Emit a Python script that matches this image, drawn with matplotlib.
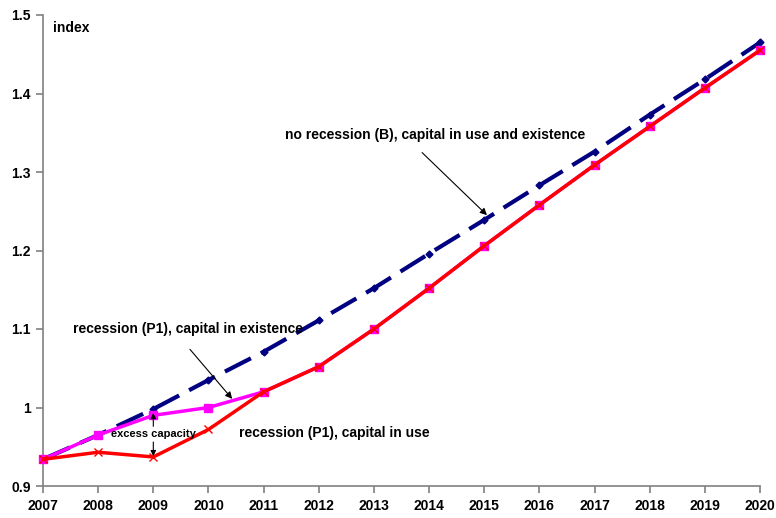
import matplotlib
matplotlib.use("Agg")
import matplotlib.pyplot as plt

years = list(range(2007, 2021))
no_recession_B = [0.934, 0.965, 0.998, 1.035, 1.071, 1.111, 1.152, 1.196, 1.239, 1.283, 1.326, 1.373, 1.418, 1.465]
recession_P1_existence = [0.934, 0.965, 0.990, 1.000, 1.020, 1.052, 1.100, 1.152, 1.206, 1.258, 1.309, 1.358, 1.407, 1.455]
recession_P1_use = [0.934, 0.943, 0.937, 0.972, 1.020, 1.052, 1.100, 1.152, 1.206, 1.258, 1.309, 1.358, 1.407, 1.455]
yticks = [0.9, 1.0, 1.1, 1.2, 1.3, 1.4, 1.5]
ytick_labels = ["0.9", "1", "1.1", "1.2", "1.3", "1.4", "1.5"]

plt.rcParams['font.family'] = ['Liberation Sans', 'DejaVu Sans']
plt.rcParams['font.weight'] = 'bold'

fig = plt.figure(figsize=(7.76, 5.18), dpi=100)
ax = fig.add_axes([43/776, 1 - 486/518, (760 - 43)/776, (486 - 15)/518])

ax.plot(years, no_recession_B, color='#000080', lw=3, ls=(0, (7, 2.7)),
        marker='D', ms=3.5, zorder=2, clip_on=False)
ax.plot(years, recession_P1_existence, color='#FF00FF', lw=2.5, marker='s', ms=6,
        zorder=3, clip_on=False)
ax.plot(years, recession_P1_use, color='#FF0000', lw=2.5, marker='x', ms=5.5, mew=1,
        zorder=4, clip_on=False)

ax.set_xlim(2007, 2020)
ax.set_ylim(0.9, 1.5)
ax.set_xticks(years)
ax.set_xticklabels([str(y) for y in years], fontsize=10, fontweight='bold')
ax.set_yticks(yticks)
ax.set_yticklabels(ytick_labels, fontsize=10, fontweight='bold')
for s in ['top', 'right']:
    ax.spines[s].set_visible(False)
for s in ['left', 'bottom']:
    ax.spines[s].set_color('#808080')
    ax.spines[s].set_linewidth(1.2)
ax.tick_params(axis='both', direction='out', length=5, color='#808080', width=1.2, pad=4)

ax.text(2007.18, 1.484, "index", fontsize=10, fontweight='bold', va='center', ha='left')

ax.annotate("no recession (B), capital in use and existence", xy=(2015.05, 1.245),
            xytext=(2011.39, 1.347), textcoords='data', fontsize=10, fontweight='bold',
            ha='left', va='center',
            arrowprops=dict(arrowstyle='-|>', color='black', lw=0.8, mutation_scale=10,
                            shrinkA=8, shrinkB=0, relpos=(0.42, 0.0)))

ax.annotate("recession (P1), capital in existence", xy=(2010.43, 1.011),
            xytext=(2007.54, 1.100), textcoords='data', fontsize=10, fontweight='bold',
            ha='left', va='center',
            arrowprops=dict(arrowstyle='-|>', color='black', lw=0.8, mutation_scale=10,
                            shrinkA=10, shrinkB=0, relpos=(0.46, 0.0)))

ax.text(2010.55, 0.9675, "recession (P1), capital in use", fontsize=10, fontweight='bold',
        ha='left', va='center')

ax.text(2008.23, 0.966, "excess capacity", fontsize=8, fontweight='bold',
        ha='left', va='center', zorder=6)
ax.annotate("", xy=(2009.0, 0.993), xytext=(2009.0, 0.976),
            arrowprops=dict(arrowstyle='-|>', color='black', lw=0.8, mutation_scale=8,
                            shrinkA=0, shrinkB=0), zorder=6)
ax.annotate("", xy=(2009.0, 0.938), xytext=(2009.0, 0.956),
            arrowprops=dict(arrowstyle='-|>', color='black', lw=0.8, mutation_scale=8,
                            shrinkA=0, shrinkB=0), zorder=6)

fig.savefig("out.png", dpi=100)
